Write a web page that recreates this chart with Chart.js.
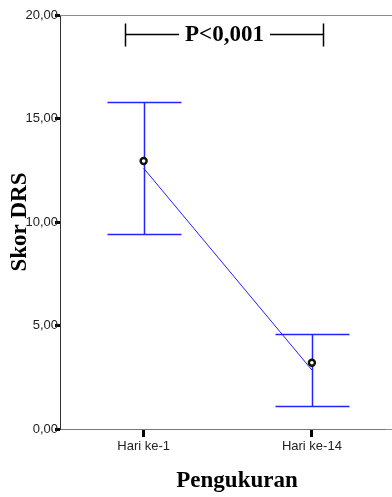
<!DOCTYPE html>
<html>
<head>
<meta charset="utf-8">
<script src="https://cdn.jsdelivr.net/npm/chart.js@4.4.0/dist/chart.umd.min.js"></script>
<style>
  html, body { margin: 0; padding: 0; background: #fff; overflow: hidden; }
  #wrap { width: 392px; height: 497px; }
  canvas { display: block; }
</style>
</head>
<body>
<div id="wrap"><canvas id="chart" width="392" height="497"></canvas></div>
<script>
// chart values
const categories = ['Hari ke-1', 'Hari ke-14'];
const positions = [1, 2];
const meanValues = [12.95, 3.2];     // marker (mean)
const lineValues = [12.6, 2.85];     // connecting line ends
const upperValues = [15.8, 4.6];     // error bar top
const lowerValues = [9.4, 1.1];      // error bar bottom
const yTicks = [0, 5, 10, 15, 20];
const pLabel = 'P<0,001';
const pLevel = 19.1;
const pFrom = 0.888, pTo = 2.065;

const serif = '"Liberation Serif", "Times New Roman", serif';
const sans = '"Liberation Sans", Arial, sans-serif';

const extras = {
    id: 'extras',
    beforeDatasetsDraw(chart) {
        const { ctx, chartArea, scales: { x, y } } = chart;
        ctx.save();
        // frame lines (top, and bottom/top run to the canvas edge)
        ctx.strokeStyle = '#8c8c8c';
        ctx.lineWidth = 1;
        ctx.beginPath();
        ctx.moveTo(chartArea.left, chartArea.top + 0.5);
        ctx.lineTo(chart.width, chartArea.top + 0.5);
        ctx.moveTo(chartArea.right, chartArea.bottom + 0.5);
        ctx.lineTo(chart.width, chartArea.bottom + 0.5);
        ctx.stroke();

        // error bars
        const capHalf = 37;
        ctx.strokeStyle = '#2424ff';
        ctx.lineWidth = 1.5;
        positions.forEach((p, i) => {
            const px = Math.round(x.getPixelForValue(p)) + 0.5;
            const top = Math.round(y.getPixelForValue(upperValues[i])) + 0.5;
            const bot = Math.round(y.getPixelForValue(lowerValues[i])) + 0.5;
            ctx.beginPath();
            ctx.moveTo(px, top);
            ctx.lineTo(px, bot);
            ctx.moveTo(px - capHalf, top);
            ctx.lineTo(px + capHalf, top);
            ctx.moveTo(px - capHalf, bot);
            ctx.lineTo(px + capHalf, bot);
            ctx.stroke();
        });
        ctx.restore();
    },
    afterDraw(chart) {
        const { ctx, chartArea, scales: { x, y } } = chart;
        ctx.save();
        ctx.fillStyle = '#000';
        ctx.font = 'bold 23px ' + serif;
        ctx.textAlign = 'center';
        ctx.textBaseline = 'middle';

        // x title
        ctx.fillText('Pengukuran', 237, 481);

        // y title
        ctx.save();
        ctx.translate(20, 222);
        ctx.rotate(-Math.PI / 2);
        ctx.fillText('Skor DRS', 0, 0);
        ctx.restore();

        // significance bracket
        const x0 = Math.round(x.getPixelForValue(pFrom)) + 0.5;
        const x1 = Math.round(x.getPixelForValue(pTo)) + 0.5;
        const py = Math.round(y.getPixelForValue(pLevel)) + 0.5;
        const tw = ctx.measureText(pLabel).width;
        const mid = (x0 + x1) / 2;
        ctx.fillText(pLabel, mid, py + 1);
        ctx.strokeStyle = '#000';
        ctx.lineWidth = 1.5;
        ctx.beginPath();
        ctx.moveTo(x0, py - 11);
        ctx.lineTo(x0, py + 12);
        ctx.moveTo(x1, py - 11);
        ctx.lineTo(x1, py + 12);
        ctx.moveTo(x0, py);
        ctx.lineTo(mid - tw / 2 - 6, py);
        ctx.moveTo(mid + tw / 2 + 6, py);
        ctx.lineTo(x1, py);
        ctx.stroke();
        ctx.restore();
    }
};

new Chart(document.getElementById('chart'), {
    type: 'scatter',
    data: {
        datasets: [
            {
                type: 'line',
                data: positions.map((p, i) => ({ x: p, y: lineValues[i] })),
                borderColor: '#1f1fff',
                borderWidth: 1,
                pointRadius: 0,
                fill: false,
                order: 2
            },
            {
                data: positions.map((p, i) => ({ x: p, y: meanValues[i] })),
                pointStyle: 'circle',
                pointRadius: 3,
                borderColor: '#111',
                borderWidth: 2.4,
                backgroundColor: '#fff',
                order: 1
            }
        ]
    },
    options: {
        responsive: false,
        animation: false,
        layout: { padding: { top: 15, right: 0, bottom: 0, left: 0 } },
        plugins: {
            legend: { display: false },
            tooltip: { enabled: false }
        },
        scales: {
            x: {
                type: 'linear',
                min: 0.503,
                max: 2.438,
                afterBuildTicks: (scale) => {
                    scale.ticks = positions.map(v => ({ value: v }));
                },
                afterFit: (scale) => {
                    scale.height = 68;
                    scale.paddingLeft = 0;
                    scale.paddingRight = 0;
                },
                border: { color: '#777', width: 1 },
                grid: {
                    drawOnChartArea: false,
                    drawTicks: true,
                    tickLength: 8,
                    tickWidth: 3,
                    tickColor: '#000'
                },
                ticks: {
                    autoSkip: false,
                    maxRotation: 0,
                    padding: 2,
                    color: '#222',
                    font: { family: sans, size: 13 },
                    callback: (v) => categories[positions.indexOf(v)] || ''
                }
            },
            y: {
                min: 0,
                max: 20,
                afterBuildTicks: (scale) => {
                    scale.ticks = yTicks.map(v => ({ value: v }));
                },
                afterFit: (scale) => {
                    scale.width = 60;
                    scale.paddingTop = 0;
                    scale.paddingBottom = 0;
                },
                border: { color: '#333', width: 1 },
                grid: {
                    drawOnChartArea: false,
                    drawTicks: true,
                    tickLength: 5,
                    tickWidth: 3,
                    tickColor: '#000'
                },
                ticks: {
                    padding: -3,
                    color: '#222',
                    font: { family: sans, size: 13 },
                    callback: (v) => v.toFixed(2).replace('.', ',')
                }
            }
        }
    },
    plugins: [extras]
});
</script>
</body>
</html>
